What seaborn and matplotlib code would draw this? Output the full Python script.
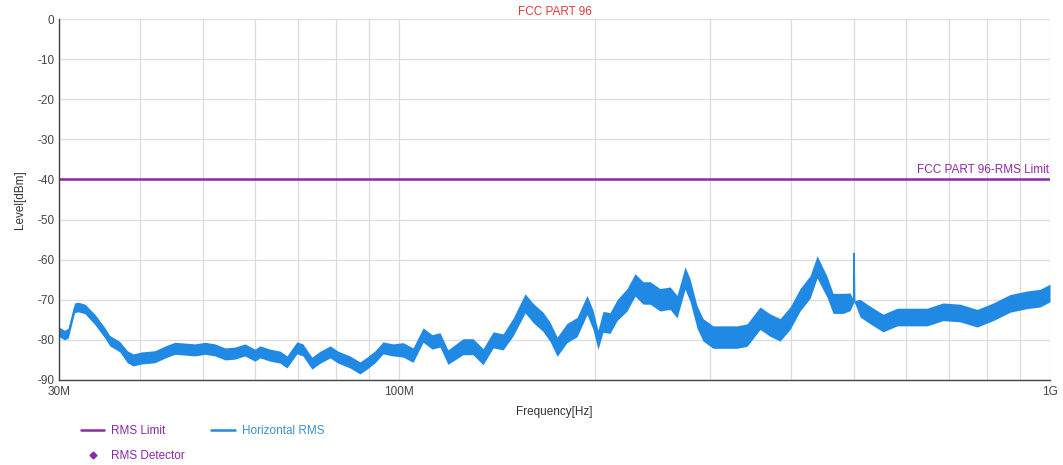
import numpy as np
import pandas as pd
import matplotlib
matplotlib.use("Agg")
import matplotlib.pyplot as plt
from matplotlib.lines import Line2D
import seaborn as sns

# frequency in MHz, level in dBm (centre of the noisy trace) and half width of the noise band
freq_mhz = [30.0, 30.6, 31.0, 31.7, 32.1, 32.9, 34.1, 35.3, 35.9, 37.2, 38.2, 39.0, 40.2, 42.1,
            43.7, 45.2, 46.9, 48.5, 50.3, 52.1, 54.0, 55.9, 57.9, 60.0, 61.1, 63.3, 65.6, 67.2,
            69.6, 71.1, 73.4, 75.6, 78.3, 80.5, 84.0, 87.0, 89.2, 91.8, 94.4, 97.8, 101.4, 105.0,
            108.8, 112.3, 115.5, 118.8, 125.3, 129.8, 134.5, 139.4, 144.4, 149.6, 156.1, 160.6,
            166.3, 170.5, 174.8, 181.0, 187.6, 194.3, 198.5, 202.0, 205.6, 210.8, 216.1, 223.9,
            230.3, 237.0, 242.9, 251.6, 260.7, 267.2, 274.9, 279.8, 286.8, 293.0, 303.5, 314.4,
            330.5, 342.3, 358.4, 371.3, 384.7, 398.6, 413.0, 427.9, 438.6, 454.4, 464.1, 480.9,
            492.9, 499.0, 500.0, 501.0, 510.7, 529.1, 554.0, 582.2, 609.5, 647.3, 685.0, 727.5,
            772.6, 817.6, 868.2, 921.9, 965.3, 1000.0]
level_dbm = [-78.0, -78.8, -78.3, -72.0, -71.8, -72.3, -75.0, -78.3, -80.2, -81.7, -84.2, -85.0,
             -84.5, -84.2, -83.0, -82.1, -82.3, -82.5, -82.1, -82.5, -83.5, -83.3, -82.5, -83.8,
             -83.0, -83.8, -84.3, -85.5, -82.0, -82.5, -85.8, -84.3, -83.0, -84.3, -85.5, -87.0,
             -85.8, -84.2, -82.0, -82.5, -82.5, -83.8, -78.8, -80.5, -80.0, -84.3, -81.7, -81.7,
             -84.2, -80.0, -80.5, -76.8, -70.9, -73.3, -75.5, -78.0, -81.7, -78.3, -76.8, -71.3,
             -75.0, -80.0, -75.5, -75.8, -72.6, -70.0, -66.3, -68.3, -68.3, -70.0, -69.6, -71.7,
             -64.6, -67.6, -74.3, -77.5, -79.3, -79.3, -79.3, -78.8, -74.6, -76.3, -77.5, -74.6,
             -70.0, -66.8, -61.8, -66.8, -70.9, -70.9, -70.5, -70.5, -58.4, -70.5, -72.1, -73.8,
             -75.8, -74.3, -74.3, -74.3, -73.0, -73.3, -74.6, -73.0, -70.9, -70.0, -69.6, -68.3]
band_db = [1.2, 1.2, 1.2, 1.2, 1.2, 1.2, 1.3, 1.3, 1.3, 1.3, 1.5, 1.5, 1.5, 1.5, 1.5, 1.5,
           1.5, 1.5, 1.5, 1.5, 1.5, 1.5, 1.5, 1.5, 1.5, 1.5, 1.5, 1.5, 1.5, 1.5, 1.5, 1.5, 1.5,
           1.5, 1.5, 1.5, 1.5, 1.5, 1.5, 1.5, 1.8, 1.8, 1.8, 1.8, 1.8, 1.8, 2.0, 2.0, 2.0, 2.0,
           2.0, 2.2, 2.4, 2.4, 2.4, 2.4, 2.4, 2.4, 2.4, 2.4, 2.4, 2.4, 2.6, 2.6, 2.6, 2.8, 2.8,
           2.8, 2.8, 2.8, 2.8, 2.8, 2.8, 2.8, 2.8, 2.8, 2.8, 2.8, 2.8, 2.8, 2.8, 2.8, 2.8, 2.8,
           2.8, 2.8, 2.8, 2.6, 2.5, 2.5, 2.2, 0.3, 0.3, 0.3, 2.2, 2.2, 2.2, 2.2, 2.2, 2.2, 2.2,
           2.2, 2.2, 2.2, 2.2, 2.2, 2.2, 2.2]

limit_freq = [30.0, 1000.0]
limit_level = [-40.0, -40.0]

x_ticks = [30, 100, 1000]
x_tick_labels = ["30M", "100M", "1G"]
y_ticks = [0, -10, -20, -30, -40, -50, -60, -70, -80, -90]

TRACE = "#2089e3"
LIMIT = "#8a2aa6"

df = pd.DataFrame({"freq": freq_mhz, "level": level_dbm, "band": band_db})
lim = pd.DataFrame({"freq": limit_freq, "level": limit_level})

sns.set_style("white")
plt.rcParams["font.family"] = ["Liberation Sans", "DejaVu Sans"]
plt.rcParams["axes.unicode_minus"] = False

fig = plt.figure(figsize=(10.63, 4.65), dpi=100)
ax = fig.add_axes([0.0555, 0.1828, 0.9323, 0.7763])

ax.fill_between(df["freq"], df["level"] - df["band"], df["level"] + df["band"],
                color=TRACE, linewidth=0)
sns.lineplot(data=df, x="freq", y="level", ax=ax, color=TRACE, linewidth=1.0)
sns.lineplot(data=lim, x="freq", y="level", ax=ax, color=LIMIT, linewidth=1.8)

ax.set_xscale("log")
ax.set_xlim(30, 1000)
ax.set_ylim(-90, 0)
ax.set_xticks(x_ticks)
ax.set_xticklabels(x_tick_labels)
minor = [40, 50, 60, 70, 80, 90, 200, 300, 400, 500, 600, 700, 800, 900]
ax.set_xticks(minor, minor=True)
ax.set_xticklabels([], minor=True)
ax.set_yticks(y_ticks)
ax.grid(True, which="both", color="#dcdcdc", linewidth=0.9)
ax.tick_params(axis="both", labelsize=8.5, colors="#444444", length=0)
ax.tick_params(axis="x", which="minor", direction="in", length=4, color="#555555")
ax.tick_params(axis="x", which="major", pad=4)

for s in ["top", "right"]:
    ax.spines[s].set_visible(False)
for s in ["left", "bottom"]:
    ax.spines[s].set_color("#444444")
    ax.spines[s].set_linewidth(1.0)

ax.set_xlabel("Frequency[Hz]", fontsize=8.5, color="#333333", labelpad=6)
ax.set_ylabel("Level[dBm]", fontsize=8.5, color="#333333", labelpad=8)
ax.set_title("FCC PART 96", fontsize=8.5, color="#e03a3a", pad=3)
ax.text(995, -39.2, "FCC PART 96-RMS Limit", ha="right", va="bottom",
        fontsize=8.5, color=LIMIT)

handles = [
    Line2D([], [], color=LIMIT, linewidth=1.8),
    Line2D([], [], color=LIMIT, marker="D", markersize=3.5, linestyle="none"),
    Line2D([], [], color=TRACE, linewidth=1.8),
]
labels = ["RMS Limit", "RMS Detector", "Horizontal RMS"]
fig.legend(handles, labels, loc="upper left", bbox_to_anchor=(0.066, 0.108), ncol=2,
           frameon=False, fontsize=8.5, labelcolor=[LIMIT, LIMIT, "#3a8fd0"],
           handlelength=2.0, columnspacing=2.2, labelspacing=1.05, handletextpad=0.6)

fig.savefig("out.png", dpi=100)
